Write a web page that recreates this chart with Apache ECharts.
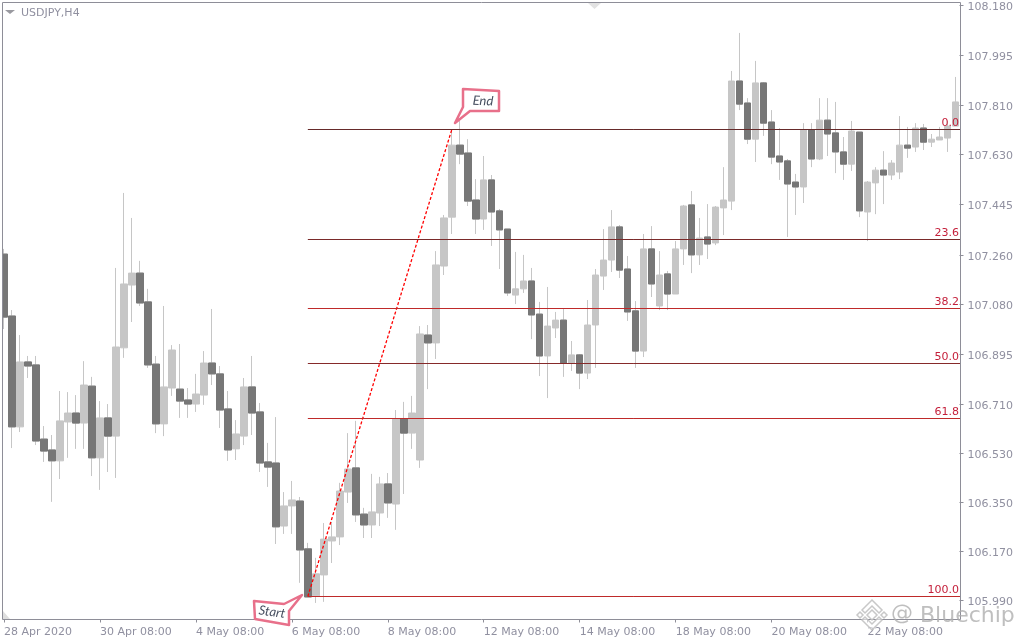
<!DOCTYPE html>
<html>
<head>
<meta charset="utf-8">
<style>html,body{margin:0;padding:0;background:#fff}#c{width:1024px;height:640px}</style>
<script src="https://cdn.jsdelivr.net/npm/echarts@6/dist/echarts.min.js"></script>
</head>
<body>
<div id="c"></div>
<script>
const symbolName = 'USDJPY,H4';
const dateTickLabels = ['28 Apr 2020','30 Apr 08:00','4 May 08:00','6 May 08:00','8 May 08:00','12 May 08:00','14 May 08:00','18 May 08:00','20 May 08:00','22 May 08:00'];
const priceTicks = [105.99,106.17,106.35,106.53,106.71,106.895,107.08,107.26,107.445,107.63,107.81,107.995,108.18];
const opens = [107.263,107.035,106.627,106.866,106.855,106.582,106.542,106.502,106.645,106.678,106.641,106.777,
106.513,106.660,106.593,106.918,107.149,107.193,107.087,106.858,106.638,106.770,106.766,106.726,
106.711,106.744,106.862,106.822,106.693,106.546,106.593,106.774,106.682,106.498,106.494,106.262,
106.336,106.354,106.178,106.005,106.082,106.207,106.222,106.387,106.476,106.306,106.266,106.310,
106.417,106.343,106.656,106.604,106.505,106.965,106.936,107.219,107.399,107.664,107.635,107.462,
107.392,107.536,107.422,107.355,107.112,107.135,107.164,107.042,106.888,106.991,107.020,106.862,
106.892,106.825,107.002,107.182,107.241,107.363,107.208,107.054,106.906,107.282,107.072,107.190,
107.116,107.282,107.444,107.260,107.326,107.304,107.433,107.458,107.900,107.819,107.686,107.893,
107.749,107.624,107.606,107.528,107.510,107.720,107.613,107.756,107.709,107.639,107.594,107.712,
107.418,107.525,107.572,107.554,107.565,107.664,107.657,107.727,107.675,107.683,107.690,107.734];
const closes = [107.031,106.627,106.866,106.851,106.575,106.538,106.502,106.649,106.678,106.641,106.781,106.513,
106.660,106.593,106.921,107.153,107.193,107.083,106.855,106.638,106.774,106.910,106.722,106.711,
106.748,106.862,106.822,106.689,106.542,106.601,106.774,106.678,106.494,106.479,106.259,106.336,
106.358,106.174,106.001,106.086,106.214,106.222,106.391,106.472,106.303,106.266,106.314,106.417,
106.347,106.656,106.604,106.678,106.969,106.936,107.223,107.396,107.664,107.631,107.458,107.392,
107.536,107.418,107.352,107.120,107.135,107.164,107.039,106.888,106.998,107.020,106.862,106.892,
106.825,107.002,107.186,107.241,107.363,107.204,107.050,106.906,107.282,107.153,107.186,107.116,
107.282,107.440,107.260,107.322,107.300,107.436,107.462,107.900,107.815,107.686,107.893,107.745,
107.620,107.602,107.521,107.510,107.720,107.613,107.756,107.705,107.639,107.594,107.716,107.422,
107.528,107.572,107.554,107.598,107.664,107.653,107.727,107.675,107.686,107.694,107.734,107.823];
const lows = [106.987,106.549,106.608,106.807,106.560,106.498,106.351,106.435,106.513,106.546,106.546,106.446,
106.395,106.461,106.439,106.881,107.013,107.072,106.844,106.604,106.593,106.741,106.660,106.660,
106.682,106.708,106.781,106.623,106.502,106.505,106.560,106.597,106.461,106.406,106.196,106.233,
106.233,106.053,106.001,105.979,105.983,106.126,106.192,106.347,106.277,106.218,106.218,106.262,
106.292,106.248,106.380,106.546,106.476,106.766,106.877,107.186,107.337,107.594,107.440,107.337,
107.352,107.293,107.208,107.109,107.079,107.120,106.950,106.814,106.733,106.954,106.811,106.833,
106.766,106.803,106.844,107.131,107.197,107.175,107.017,106.844,106.884,107.105,107.057,107.057,
107.116,107.223,107.193,107.223,107.245,107.296,107.333,107.425,107.793,107.668,107.602,107.698,
107.594,107.536,107.326,107.407,107.451,107.583,107.609,107.624,107.561,107.536,107.569,107.399,
107.311,107.410,107.447,107.536,107.539,107.617,107.639,107.646,107.657,107.683,107.639,107.734];
const highs = [107.282,107.057,106.965,106.888,106.888,106.630,106.597,106.759,106.755,106.744,106.869,106.811,
106.722,106.711,107.212,107.488,107.396,107.238,107.135,106.888,107.072,106.928,106.932,106.770,
106.822,106.906,107.061,106.851,106.759,106.652,106.807,106.888,106.715,106.568,106.663,106.387,
106.428,106.369,106.200,106.145,106.273,106.277,106.421,106.604,106.649,106.329,106.454,106.443,
106.457,106.689,106.719,106.741,106.998,107.002,107.274,107.407,107.720,107.756,107.686,107.539,
107.624,107.554,107.429,107.355,107.271,107.260,107.212,107.087,107.142,107.050,107.061,106.943,
106.895,107.094,107.208,107.355,107.425,107.370,107.256,107.090,107.337,107.366,107.274,107.201,
107.311,107.444,107.495,107.396,107.447,107.440,107.583,107.937,108.077,107.837,107.974,107.896,
107.793,107.727,107.613,107.558,107.745,107.745,107.837,107.837,107.823,107.694,107.753,107.712,
107.532,107.583,107.642,107.609,107.771,107.731,107.745,107.742,107.705,107.731,107.753,107.915];
const fibLabels = ['0.0','23.6','38.2','50.0','61.8','100.0'];
const fibPrices = [107.721,107.317,107.063,106.860,106.658,106.003];
const fibColors = ['#662a2a','#7a2a2a','#bf2a2a','#862a2a','#bf2a2a','#bf2a2a'];
const fibStartIndex = 38;
const trendPoints = [[38,106.003],[56,107.721]];

const categories = opens.map((_, i) => i % 12 === 0 ? dateTickLabels[i / 12] : String(i));
const allBars = opens.map((o, i) => [o, closes[i], lows[i], highs[i]]);
const darkBodies = opens.map((o, i) => o > closes[i] ? [o, closes[i], closes[i], o] : ['-', '-', '-', '-']);

const AXIS = '#8e8e98', TXT = '#9090a0', LIGHT = '#c6c6c6', DARK = '#777777';
const chart = echarts.init(document.getElementById('c'), null, {renderer: 'canvas'});

function logo(cx, cy) {
  const st = {fill: 'rgba(255,255,255,0.55)', stroke: 'rgba(190,190,190,0.85)', lineWidth: 1.5};
  const sets = [
    [[0,-5],[5,0],[0,5],[-5,0]],
    [[-12,-3],[-9,0],[-12,3],[-15,0]],
    [[12,-3],[15,0],[12,3],[9,0]],
    [[0,-15],[10,-5],[7,-2],[0,-9],[-7,-2],[-10,-5]],
    [[0,15],[10,5],[7,2],[0,9],[-7,2],[-10,5]]
  ];
  return sets.map(p => ({type: 'polygon', z: 120, silent: true,
    shape: {points: p.map(q => [q[0] + cx, q[1] + cy])}, style: st}));
}

const bubble = {fill: '#ffffff', stroke: '#e8708a', lineWidth: 2.5, lineJoin: 'round'};

chart.setOption({
  animation: false,
  backgroundColor: '#ffffff',
  grid: {left: -0.5, width: 960, top: 2.5, height: 617},
  xAxis: {
    type: 'category', data: categories, boundaryGap: true,
    axisLine: {show: false},
    axisTick: {show: true, alignWithLabel: true, interval: 11, length: 3, lineStyle: {color: AXIS}},
    axisLabel: {show: true, interval: 11, color: TXT, fontFamily: 'DejaVu Sans', fontSize: 11, margin: 7, align: 'left', hideOverlap: false},
    splitLine: {show: false}
  },
  yAxis: {
    type: 'value', position: 'right', min: 105.918, max: 108.189, scale: true,
    axisLine: {show: false},
    axisTick: {show: true, length: 4, customValues: priceTicks, lineStyle: {color: AXIS}},
    axisLabel: {show: true, color: TXT, fontFamily: 'DejaVu Sans', fontSize: 11, margin: 8, verticalAlign: 'top', lineHeight: 4,
      customValues: priceTicks, formatter: v => v.toFixed(3)},
    splitLine: {show: false}
  },
  series: [
    {type: 'candlestick', name: symbolName, data: allBars, barWidth: 7, clip: false,
      itemStyle: {color: LIGHT, color0: LIGHT, borderColor: LIGHT, borderColor0: LIGHT, borderWidth: 1}},
    {type: 'candlestick', name: 'down bodies', data: darkBodies, barWidth: 7, clip: false, z: 3,
      itemStyle: {color: DARK, color0: DARK, borderColor: DARK, borderColor0: DARK, borderWidth: 1}},
    {type: 'line', name: 'trend', data: trendPoints, symbol: 'none', z: 4, silent: true,
      lineStyle: {color: '#ff0000', width: 1.3, type: [3, 2]}},
    {type: 'custom', name: 'fib', z: 5, silent: true,
      data: fibPrices.map(p => [fibStartIndex, p]),
      encode: {x: 0, y: 1},
      renderItem: (params, api) => {
        const p = api.coord([api.value(0), api.value(1)]);
        const y = Math.floor(p[1]) + 0.5;
        const right = params.coordSys.x + params.coordSys.width + 0.5;
        return {type: 'group', children: [
          {type: 'line', shape: {x1: p[0], y1: y, x2: right, y2: y},
            style: {stroke: fibColors[params.dataIndex], lineWidth: 1}},
          {type: 'text', style: {x: right - 1, y: y - 1, text: fibLabels[params.dataIndex], align: 'right', verticalAlign: 'bottom',
            fill: '#c41f3a', font: '11px "DejaVu Sans"'}}
        ]};
      }}
  ],
  graphic: [
    {type: 'rect', z: 100, silent: true, shape: {x: 0, y: 0, width: 2, height: 640}, style: {fill: '#fff'}},
    {type: 'polyline', z: 101, silent: true,
      shape: {points: [[2.5, 619.5], [2.5, 2.5], [960.5, 2.5], [960.5, 619.5], [2.5, 619.5]]},
      style: {stroke: AXIS, lineWidth: 1, fill: null}},
    {type: 'polygon', z: 101, silent: true, shape: {points: [[3, 619], [3, 611], [10, 619]]}, style: {fill: '#dedede'}},
    {type: 'polygon', z: 101, silent: true, shape: {points: [[588, 3], [601, 3], [594.5, 9]]}, style: {fill: '#e2e2e2'}},
    {type: 'polygon', z: 101, silent: true, shape: {points: [[5, 10], [15, 10], [10, 14]]}, style: {fill: '#9a9aa0'}},
    {type: 'text', z: 101, silent: true, style: {x: 21, y: 13, text: symbolName, fill: TXT, font: '11px "DejaVu Sans"', verticalAlign: 'middle'}},
    {type: 'polygon', z: 110, silent: true, shape: {points: [[463,89],[499,91],[499,111],[470,111],[455,123],[463,107]]}, style: bubble},
    {type: 'text', z: 111, silent: true, x: 483, y: 101, rotation: -0.05, style: {text: 'End', fill: '#474f60', font: 'italic 13px Lato', align: 'center', verticalAlign: 'middle'}},
    {type: 'polygon', z: 110, silent: true, shape: {points: [[254,601],[284,604],[302,595],[289,611],[289,625],[255,619]]}, style: bubble},
    {type: 'text', z: 111, silent: true, x: 272, y: 612, rotation: -0.14, style: {text: 'Start', fill: '#474f60', font: 'italic 13px Lato', align: 'center', verticalAlign: 'middle'}},
    ...logo(872, 615),
    {type: 'text', z: 120, silent: true, style: {x: 902, y: 614, text: '@', fill: 'rgba(175,175,175,0.8)', font: '22px "DejaVu Sans"', align: 'center', verticalAlign: 'middle'}},
    {type: 'text', z: 120, silent: true, style: {x: 920, y: 616, text: 'Bluechip', fill: 'rgba(175,175,175,0.8)', font: '22px "DejaVu Sans"', verticalAlign: 'middle'}}
  ]
});
</script>
</body>
</html>
